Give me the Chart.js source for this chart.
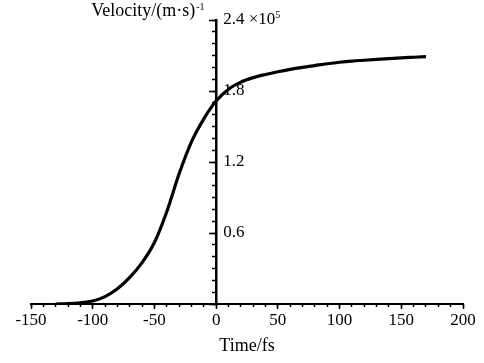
<!DOCTYPE html>
<html>
<head>
<meta charset="utf-8">
<script src="https://cdn.jsdelivr.net/npm/chart.js@4/dist/chart.umd.min.js"></script>
<style>
  html, body { margin: 0; padding: 0; background: #fff; }
  #wrap { width: 484px; height: 363px; }
</style>
</head>
<body>
<div id="wrap"><canvas id="velocity-chart"></canvas></div>
<script>
// time in fs, velocity in units of 1e5 m/s
const timeFs = [-130, -120, -110, -100, -90, -80, -70, -60, -50, -40, -30, -20, -10, 0,
  10, 20, 30, 40, 50, 60, 70, 80, 90, 100, 110, 120, 130, 140, 150, 160, 170];
const velocity = [0, 0.003, 0.01, 0.025, 0.062, 0.128, 0.225, 0.35, 0.52, 0.78, 1.10, 1.37, 1.565, 1.715,
  1.815, 1.875, 1.913, 1.94, 1.963, 1.983, 2.0, 2.015, 2.03, 2.043, 2.053, 2.06, 2.067, 2.074, 2.08, 2.085, 2.09];
const yTickValues = [0.6, 1.2, 1.8, 2.4];
const yTickLabels = ["0.6", "1.2", "1.8", "2.4"];

const FONT = "Liberation Serif, Times New Roman, serif";
Chart.defaults.font.family = FONT;
Chart.defaults.font.size = 17;
Chart.defaults.color = "#000";

// labels sit to the right of the y axis, so draw them here
const yLabels = {
  id: "yLabels",
  afterDraw(chart) {
    const ctx = chart.ctx;
    const x0 = chart.scales.x.getPixelForValue(0);
    const ys = chart.scales.y;
    ctx.save();
    ctx.fillStyle = "#000";
    ctx.font = "17px " + FONT;
    ctx.textAlign = "left";
    ctx.textBaseline = "middle";
    yTickValues.forEach((v, i) => {
      let txt = yTickLabels[i];
      if (i === yTickValues.length - 1) txt += " \u00d710";
      ctx.fillText(txt, x0 + 7, ys.getPixelForValue(v));
      if (i === yTickValues.length - 1) {
        const w = ctx.measureText(txt).width;
        ctx.font = "10px " + FONT;
        ctx.fillText("5", x0 + 7 + w, ys.getPixelForValue(v) - 5);
        ctx.font = "17px " + FONT;
      }
    });
    // axis name, top left of the axis
    const top = ys.getPixelForValue(2.4);
    ctx.font = "18px " + FONT;
    ctx.textAlign = "right";
    ctx.textBaseline = "alphabetic";
    ctx.fillText("Velocity/(m\u00b7s)", x0 - 21, top - 4);
    ctx.font = "10px " + FONT;
    ctx.textAlign = "left";
    ctx.fillText("-1", x0 - 20, top - 10);
    ctx.restore();
  },
};

const zeroWidth = (s) => { s.width = 0; };

new Chart(document.getElementById("velocity-chart"), {
  type: "line",
  data: {
    datasets: [
      {
        data: timeFs.map((t, i) => ({ x: t, y: velocity[i] })),
        borderColor: "#000",
        borderWidth: 3.2,
        pointRadius: 0,
        cubicInterpolationMode: "monotone",
        fill: false,
      },
    ],
  },
  options: {
    responsive: true,
    maintainAspectRatio: false,
    animation: false,
    layout: {
      padding: { left: 31, right: 21, top: 20, bottom: 0 },
    },
    plugins: {
      legend: { display: false },
      tooltip: { enabled: false },
    },
    scales: {
      xMinor: {
        type: "linear",
        position: "bottom",
        weight: 0,
        min: -150,
        max: 200,
        ticks: { stepSize: 10, display: false },
        grid: { drawOnChartArea: false, tickLength: 3, tickWidth: 1.5, tickColor: "#000" },
        border: { display: false },
        afterFit: (s) => { s.height = 0; },
      },
      x: {
        type: "linear",
        position: "bottom",
        weight: 1,
        min: -150,
        max: 200,
        ticks: { stepSize: 50, padding: 1, maxRotation: 0 },
        grid: { drawOnChartArea: false, tickLength: 5, tickWidth: 1.5, tickColor: "#000" },
        border: { display: true, color: "#000", width: 2 },
        title: {
          display: true,
          text: "Time/fs",
          font: { size: 18 },
          padding: { top: 0, bottom: 6 },
        },
        afterFit: (s) => { s.height = 59; },
      },
      yMinor: {
        type: "linear",
        position: { x: 0 },
        min: 0,
        max: 2.4,
        ticks: { stepSize: 0.1, display: false },
        grid: { drawOnChartArea: false, tickLength: 4, tickWidth: 1.5, tickColor: "#000" },
        border: { display: false },
        afterFit: zeroWidth,
      },
      y: {
        type: "linear",
        position: { x: 0 },
        min: 0,
        max: 2.4,
        ticks: { stepSize: 0.6, display: false },
        grid: { drawOnChartArea: false, tickLength: 6, tickWidth: 1.5, tickColor: "#000" },
        border: { display: true, color: "#000", width: 2.5 },
        afterFit: zeroWidth,
      },
    },
  },
  plugins: [yLabels],
});
</script>
</body>
</html>
